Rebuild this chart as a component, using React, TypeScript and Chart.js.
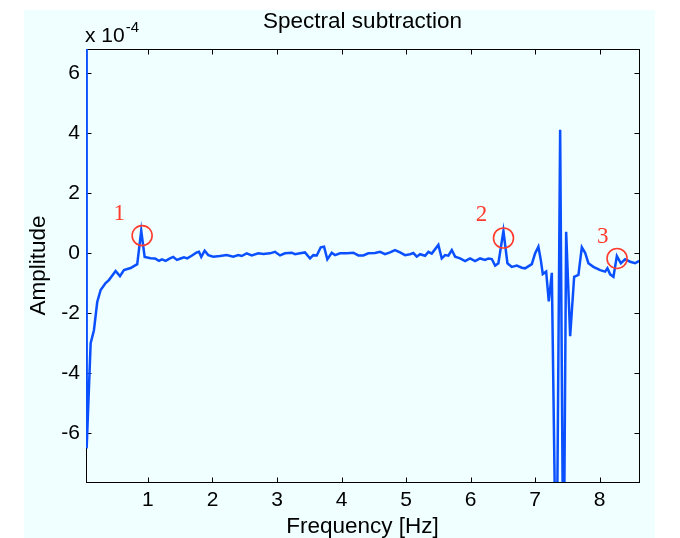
import { useEffect, useRef } from 'react';
import { Chart, registerables } from 'chart.js';

Chart.register(...registerables);

// Frequency [Hz]
const freqs = [
  0.04, 0.05, 0.112, 0.163, 0.214, 0.267, 0.344, 0.395, 0.499, 0.566, 0.628, 0.732, 0.834, 0.896, 0.949,
  1.042, 1.109, 1.171, 1.217, 1.274, 1.341, 1.392, 1.45, 1.496, 1.558, 1.609, 1.677, 1.755, 1.791, 1.826,
  1.879, 1.935, 2.012, 2.116, 2.22, 2.322, 2.4, 2.453, 2.53, 2.608, 2.71, 2.788, 2.891, 2.969, 3.047,
  3.124, 3.228, 3.279, 3.357, 3.434, 3.512, 3.563, 3.616, 3.678, 3.729, 3.78, 3.848, 3.899, 3.977, 4.081,
  4.183, 4.26, 4.338, 4.415, 4.519, 4.597, 4.674, 4.752, 4.829, 4.907, 4.984, 5.062, 5.113, 5.166, 5.217,
  5.295, 5.346, 5.398, 5.501, 5.553, 5.605, 5.656, 5.709, 5.76, 5.837, 5.915, 5.992, 6.07, 6.147, 6.225,
  6.276, 6.329, 6.38, 6.431, 6.509, 6.571, 6.639, 6.716, 6.794, 6.845, 6.949, 7.0, 7.051, 7.088, 7.119,
  7.171, 7.212, 7.259, 7.33, 7.388, 7.44, 7.481, 7.543, 7.605, 7.671, 7.724, 7.775, 7.826, 7.903, 8.008,
  8.085, 8.121, 8.163, 8.214, 8.267, 8.329, 8.395, 8.473, 8.55, 8.612,
];

// Amplitude (x 10^-4)
const amps = [
  8.0, -6.5, -3.0, -2.57, -1.63, -1.23, -1.0, -0.9, -0.6, -0.77, -0.57, -0.5, -0.37, 0.74, -0.13,
  -0.17, -0.18, -0.26, -0.21, -0.26, -0.18, -0.13, -0.23, -0.19, -0.14, -0.18, -0.09, 0.02, 0.04, -0.13,
  0.08, -0.07, -0.12, -0.1, -0.07, -0.12, -0.07, -0.1, -0.01, -0.08, -0.01, -0.03, -0.01, 0.04, -0.08,
  -0.01, 0.01, -0.04, -0.01, 0.02, -0.18, -0.07, -0.08, 0.19, 0.21, -0.21, 0.01, -0.07, -0.01, -0.01,
  0.01, -0.08, -0.08, -0.01, 0.0, 0.04, -0.04, 0.02, 0.1, 0.02, -0.07, -0.04, 0.0, -0.12, -0.04,
  -0.09, 0.04, -0.02, 0.27, -0.18, -0.07, -0.09, 0.1, -0.12, -0.18, -0.27, -0.18, -0.27, -0.18, -0.23,
  -0.18, -0.2, -0.42, -0.34, 0.73, -0.34, -0.46, -0.42, -0.49, -0.51, -0.37, -0.01, 0.21, -0.23, -0.7,
  -0.62, -1.61, -0.66, -12.0, 4.1, -12.0, 0.71, -2.77, -0.79, -0.73, 0.19, 0.01, -0.34, -0.46, -0.57,
  -0.62, -0.51, -0.71, -0.79, -0.1, -0.34, -0.21, -0.29, -0.34, -0.26,
];

const xTicks = [1, 2, 3, 4, 5, 6, 7, 8];
const yTicks = [-6, -4, -2, 0, 2, 4, 6];

// Circled peaks and their labels
const markerFreqs = [0.91, 6.51, 8.27];
const markerAmps = [0.58, 0.5, -0.18];
const markerLabels = ['1', '2', '3'];
const labelFreqs = [0.555, 6.17, 8.05];
const labelAmps = [1.3, 1.27, 0.52];

const chartTitle = 'Spectral subtraction';
const xTitle = 'Frequency [Hz]';
const yTitle = 'Amplitude';
const exponentBase = 'x 10';
const exponentPower = '-4';

const SANS = '"Liberation Sans", Arial, Helvetica, sans-serif';
const SERIF = '"Liberation Serif", "Times New Roman", serif';
const RED = '#ff3b2e';
const BLUE = '#0a50ff';

const framePlugin = {
  id: 'frame',
  beforeDraw(chart: any) {
    const { ctx, width, height } = chart;
    ctx.save();
    ctx.fillStyle = '#ffffff';
    ctx.fillRect(0, 0, width, height);
    ctx.fillStyle = '#f0ffff';
    ctx.fillRect(24, 10, 631, height - 10);
    ctx.restore();
  },
  beforeDatasetsDraw(chart: any) {
    const { ctx, chartArea: a, scales } = chart;
    const L = Math.round(a.left) + 0.5;
    const R = Math.round(a.right) + 0.5;
    const T = Math.round(a.top) + 0.5;
    const B = Math.round(a.bottom) + 0.5;
    ctx.save();
    ctx.strokeStyle = '#000000';
    ctx.lineWidth = 1;
    ctx.strokeRect(L, T, R - L, B - T);
    ctx.beginPath();
    const tl = 5;
    scales.x.ticks.forEach((t: any) => {
      const px = Math.round(scales.x.getPixelForValue(t.value)) + 0.5;
      ctx.moveTo(px, B); ctx.lineTo(px, B - tl);
      ctx.moveTo(px, T); ctx.lineTo(px, T + tl);
    });
    scales.y.ticks.forEach((t: any) => {
      const py = Math.round(scales.y.getPixelForValue(t.value)) + 0.5;
      ctx.moveTo(L, py); ctx.lineTo(L + tl, py);
      ctx.moveTo(R, py); ctx.lineTo(R - tl, py);
    });
    ctx.stroke();
    ctx.restore();
  },
  afterDraw(chart: any) {
    const { ctx, chartArea: a, scales } = chart;
    ctx.save();
    // title, centred over the plot area
    ctx.fillStyle = '#000000';
    ctx.textAlign = 'center';
    ctx.textBaseline = 'middle';
    ctx.font = `22.5px ${SANS}`;
    ctx.fillText(chartTitle, (a.left + a.right) / 2, 22);
    // exponent label
    ctx.textBaseline = 'alphabetic';
    ctx.textAlign = 'left';
    ctx.font = `21px ${SANS}`;
    const ex = a.left - 1;
    ctx.fillText(exponentBase, ex, 42);
    const w = ctx.measureText(exponentBase).width;
    ctx.font = `15px ${SANS}`;
    ctx.fillText(exponentPower, ex + w + 1, 32);
    // circles and labels
    ctx.strokeStyle = RED;
    ctx.fillStyle = RED;
    ctx.lineWidth = 1.6;
    ctx.font = `23px ${SERIF}`;
    ctx.textAlign = 'center';
    ctx.textBaseline = 'middle';
    markerFreqs.forEach((f, i) => {
      const cx = scales.x.getPixelForValue(f);
      const cy = scales.y.getPixelForValue(markerAmps[i]);
      ctx.beginPath();
      ctx.arc(cx, cy, 10, 0, Math.PI * 2);
      ctx.stroke();
      const lx = scales.x.getPixelForValue(labelFreqs[i]);
      const ly = scales.y.getPixelForValue(labelAmps[i]);
      ctx.fillText(markerLabels[i], lx, ly);
    });
    ctx.restore();
  },
};

export default function App() {
  const ref = useRef<HTMLCanvasElement | null>(null);
  useEffect(() => {
    if (!ref.current) return;
    const chart = new Chart(ref.current, {
      type: 'line',
      data: {
        datasets: [
          {
            data: freqs.map((f, i) => ({ x: f, y: amps[i] })),
            borderColor: BLUE,
            borderWidth: 2.5,
            pointRadius: 0,
            tension: 0,
            fill: false,
          },
        ],
      },
      options: {
        animation: false,
        responsive: false,
        devicePixelRatio: 1,
        layout: { padding: { left: 0, right: 41, top: 49, bottom: 0 } },
        plugins: {
          legend: { display: false },
          tooltip: { enabled: false },
          title: { display: false },
        },
        scales: {
          x: {
            type: 'linear',
            min: 0.04,
            max: 8.61,
            grid: { display: false, drawTicks: false },
            border: { display: false },
            afterBuildTicks: (s: any) => { s.ticks = xTicks.map((v) => ({ value: v })); },
            afterFit: (s: any) => { s.height = 56; },
            ticks: {
              color: '#000000',
              font: { family: SANS, size: 21 },
              padding: 6,
              maxRotation: 0,
              autoSkip: false,
              callback: (v: any) => String(v),
            },
            title: {
              display: true,
              text: xTitle,
              color: '#000000',
              font: { family: SANS, size: 22.5, lineHeight: 1 },
              padding: { top: 0, bottom: 0 },
            },
          },
          y: {
            type: 'linear',
            min: -7.62,
            max: 6.79,
            grid: { display: false, drawTicks: false },
            border: { display: false },
            afterBuildTicks: (s: any) => { s.ticks = yTicks.map((v) => ({ value: v })); },
            afterFit: (s: any) => { s.width = 86; },
            ticks: {
              color: '#000000',
              font: { family: SANS, size: 21 },
              padding: 6,
              autoSkip: false,
              callback: (v: any) => String(v),
            },
            title: {
              display: true,
              text: yTitle,
              color: '#000000',
              font: { family: SANS, size: 22.5, lineHeight: 1.2 },
              padding: { top: 25, bottom: 0 },
            },
          },
        },
      },
      plugins: [framePlugin],
    } as any);
    return () => chart.destroy();
  }, []);
  return (
    <div style={{ position: 'fixed', left: 0, top: 0, width: 680, height: 538 }}>
      <canvas ref={ref} width={680} height={538} style={{ display: 'block' }} />
    </div>
  );
}
